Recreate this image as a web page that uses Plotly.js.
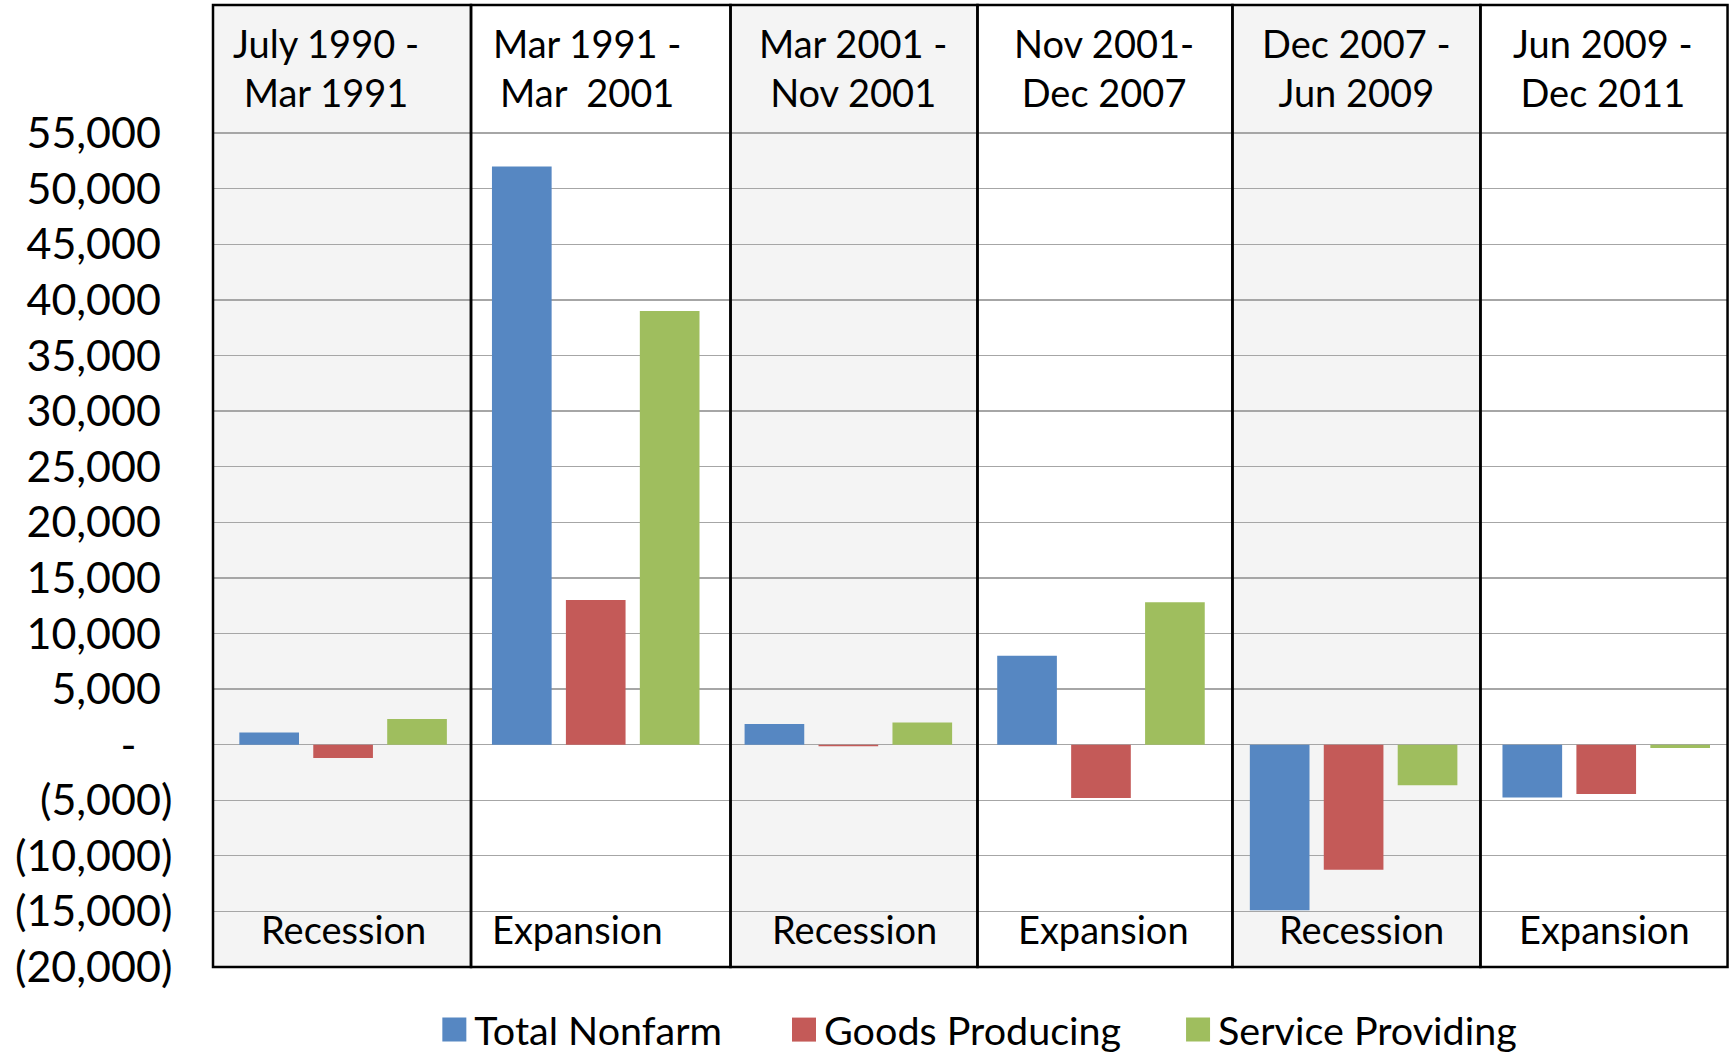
<!DOCTYPE html>
<html>
<head>
<meta charset="utf-8">
<script src="https://cdn.plot.ly/plotly-3.0.1.min.js"></script>
<style>
  html, body { margin: 0; padding: 0; background: #ffffff; }
  #chart { width: 1730px; height: 1055px; }
</style>
</head>
<body>
<div id="chart"></div>
<script>
// ---- data ----
const periodStart = ["July 1990 -", "Mar 1991 -", "Mar 2001 -", "Nov 2001-", "Dec 2007 -", "Jun 2009 -"];
const periodEnd   = ["Mar 1991", "Mar  2001", "Nov 2001", "Dec 2007", "Jun 2009", "Dec 2011"];
const phases      = ["Recession", "Expansion", "Recession", "Expansion", "Recession", "Expansion"];
const categories  = periodStart.map((s, i) => s + " " + periodEnd[i]);

const seriesNames = ["Total Nonfarm", "Goods Producing", "Service Providing"];
const totalNonfarm     = [1100, 52000, 1850, 8000, -14900, -4750];
const goodsProducing   = [-1200, 13000, -150, -4800, -11250, -4450];
const serviceProviding = [2300, 39000, 2000, 12800, -3650, -300];

const tickValues = [-20000, -15000, -10000, -5000, 0, 5000, 10000, 15000, 20000, 25000, 30000, 35000, 40000, 45000, 50000, 55000];

// ---- styling / layout constants ----
const colors = ["#5687c2", "#c45a58", "#9fbe5e"];
const FONT = "Lato, 'Open Sans', sans-serif";
const hidden = (t) => '<span style="color:rgba(0,0,0,0)">' + t + '</span>';
function fmtTick(v) {
  if (v === 0) return "-" + hidden("0 ");
  const s = Math.abs(v).toLocaleString("en-US");
  return v < 0 ? "(" + s + ")" : s + hidden(")");
}
const tickText = tickValues.map(fmtTick);

// column box edges in paper fraction (layout positions)
const boxEdges = [0, 0.1703, 0.3416, 0.5046, 0.6729, 0.8366, 0.9997];
const headerShift = [-17, -9, 5, 3, 3, -3];
const phaseShift  = [0, -18, 6, 3, 8, -2];
const legendX = [0.1461, 0.3769, 0.637];
const legendIds = ["legend", "legend2", "legend3"];

const seriesValues = [totalNonfarm, goodsProducing, serviceProviding];
const traces = seriesNames.map((name, k) => ({
  type: "bar",
  name: name,
  x: categories,
  y: seriesValues[k],
  legend: legendIds[k],
  marker: { color: colors[k], line: { width: 0 } },
  hoverinfo: "skip"
}));

const shapes = [];
for (let i = 0; i < categories.length; i++) {
  if (phases[i] === "Recession") {
    shapes.push({
      type: "rect", xref: "paper", yref: "paper", layer: "below",
      x0: boxEdges[i], x1: boxEdges[i + 1], y0: 0, y1: 1,
      fillcolor: "#f4f4f4", line: { width: 0 }
    });
  }
}
for (let i = 0; i < categories.length; i++) {
  shapes.push({
    type: "rect", xref: "paper", yref: "paper", layer: "above",
    x0: boxEdges[i], x1: boxEdges[i + 1], y0: 0, y1: 1,
    fillcolor: "rgba(0,0,0,0)", line: { color: "#000000", width: 2.5 }
  });
}

const annotations = [];
categories.forEach((c, i) => {
  annotations.push({
    xref: "x", yref: "paper", x: c, y: 0.935, xanchor: "center", yanchor: "middle",
    xshift: headerShift[i], showarrow: false, align: "center",
    text: periodStart[i] + "<br>" + periodEnd[i],
    font: { family: FONT, size: 38, color: "#000000" }
  });
  annotations.push({
    xref: "x", yref: "paper", x: c, y: 0.0395, xanchor: "center", yanchor: "middle",
    xshift: phaseShift[i], showarrow: false,
    text: phases[i],
    font: { family: FONT, size: 38, color: "#000000" }
  });
});

const layout = {
  width: 1730, height: 1055,
  margin: { l: 213, r: 2, t: 5, b: 88, pad: 0, autoexpand: false },
  paper_bgcolor: "#ffffff", plot_bgcolor: "rgba(0,0,0,0)",
  barmode: "group", bargap: 0.122, bargroupgap: 0.193,
  showlegend: true,
  xaxis: {
    type: "category", range: [-0.515, 5.482],
    showticklabels: false, showgrid: false, zeroline: false, showline: false, ticks: ""
  },
  yaxis: {
    range: [-20000, 66525], tickmode: "array", tickvals: tickValues, ticktext: tickText,
    showgrid: true, gridcolor: "#a6a6a6", gridwidth: 1.3,
    zeroline: false, showline: false,
    ticks: "outside", ticklen: 31, tickcolor: "rgba(0,0,0,0)",
    tickfont: { family: FONT, size: 43, color: "#000000" }
  },
  shapes: shapes,
  annotations: annotations
};
legendIds.forEach((id, k) => {
  layout[id] = {
    orientation: "h", x: legendX[k], xanchor: "left", y: -0.0654, yanchor: "middle",
    font: { family: FONT, size: 39.5, color: "#000000" },
    bgcolor: "rgba(0,0,0,0)", borderwidth: 0
  };
});

Plotly.newPlot("chart", traces, layout, { displayModeBar: false, staticPlot: true }).then(() => {
  document.querySelectorAll("#chart .legendpoints path").forEach(p => {
    const t = p.getAttribute("transform") || "";
    p.setAttribute("transform", t + " scale(2)");
  });
});
</script>
</body>
</html>
